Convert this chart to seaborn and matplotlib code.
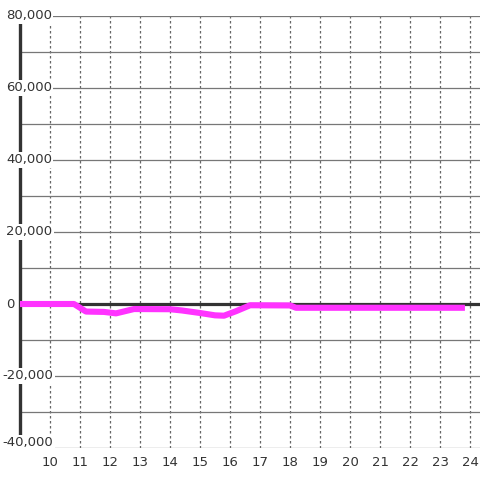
import pandas as pd
import matplotlib
matplotlib.use("Agg")
import matplotlib.pyplot as plt
import matplotlib.transforms as mtransforms
import seaborn as sns

# values (hour of day vs value)
hours = [9.0, 10.8, 11.2, 11.8, 12.2, 12.8, 14.0, 14.4, 15.0, 15.5, 15.8,
         16.2, 16.67, 18.0, 18.2, 23.83]
values = [0, 0, -2100, -2200, -2600, -1400, -1450, -1800, -2500, -3150, -3250,
          -2000, -350, -400, -1050, -1050]
x_ticks = list(range(10, 25))
y_ticks = list(range(-40000, 80001, 10000))
y_labels = [-40000, -20000, 0, 20000, 40000, 60000, 80000]

df = pd.DataFrame({"hour": hours, "value": values})

sns.set_style("white")
plt.rcParams["font.family"] = ["DejaVu Sans"]

fig = plt.figure(figsize=(4.8, 4.8), dpi=100)
ax = fig.add_axes([20 / 480, 32 / 480, 460 / 480, 432 / 480])

sns.lineplot(data=df, x="hour", y="value", ax=ax, color="#ff33ff",
             linewidth=4.4, solid_capstyle="butt", zorder=7)

ax.set_xlim(9, 24.333)
ax.set_ylim(-40000, 80000)
ax.set_xticks(x_ticks)
ax.set_yticks(y_ticks)
ax.set_yticklabels([])
ax.set_xlabel("")
ax.set_ylabel("")

ax.grid(axis="y", color="#777777", linewidth=0.9, linestyle="-")
ax.grid(axis="x", color="#666666", linewidth=0.9, linestyle=(0, (2, 2)))
ax.axhline(0, color="#333333", linewidth=2.3, zorder=4)

for s in ["top", "right", "bottom"]:
    ax.spines[s].set_visible(False)
ax.spines["left"].set_color("#333333")
ax.spines["left"].set_linewidth(2.4)

ax.tick_params(axis="x", length=0, pad=6, labelsize=9.5, labelcolor="#333333")
ax.tick_params(axis="y", length=0)

trans = mtransforms.blended_transform_factory(fig.transFigure, ax.transData)
for v in y_labels:
    yy = v if v > -40000 else -38500
    xx = 2.5 / 480 if v < 0 else 6 / 480
    ax.text(xx, yy, f"{v:,}", ha="left", va="center", fontsize=9.5,
            color="#333333", zorder=6, clip_on=False, transform=trans,
            bbox=dict(facecolor="white", edgecolor="none", pad=1.0))

fig.savefig("out.png", dpi=100, facecolor="white")
